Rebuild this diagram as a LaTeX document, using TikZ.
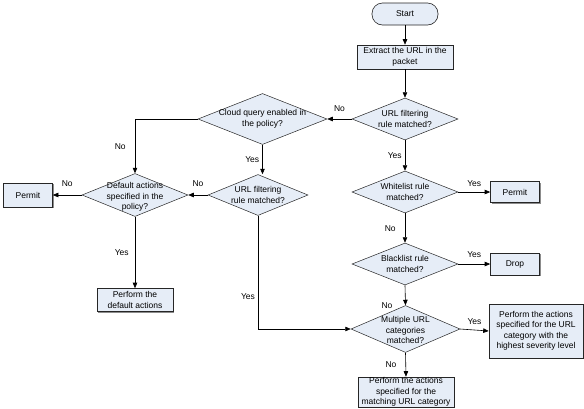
\documentclass[tikz,border=0pt]{standalone}
\usepackage{fontspec}
\setmainfont{Liberation Sans}
\usetikzlibrary{shapes.geometric,arrows.meta,shadows}
\definecolor{boxfill}{HTML}{E6EDF7}
\begin{document}
\begin{tikzpicture}[x=1pt,y=-1pt,
  every node/.style={font=\fontsize{8.5}{10.5}\selectfont,inner sep=0pt,align=center},
  procbox/.style={draw=black!85,line width=0.6pt,fill=boxfill,align=center,
    drop shadow={shadow xshift=1.2pt,shadow yshift=-1.2pt,fill=black!45,opacity=1}},
  dia/.style={draw=black!85,line width=0.5pt,fill=boxfill,diamond,shape aspect=#1,inner sep=0pt},
  arr/.style={-{Triangle[length=5.5pt,width=4.5pt]},line width=0.6pt},
  lbl/.style={font=\fontsize{8.5}{10}\selectfont}]
\useasboundingbox (0,0) rectangle (584,408);
% terminator
\node[draw=black!85,line width=0.6pt,fill=boxfill,rounded corners=10.5pt,minimum width=66pt,minimum height=22pt] (start) at (405,14) {Start};
\node[procbox,minimum width=96pt,minimum height=24pt] (extract) at (405,57) {Extract the URL in the\\packet};
% decisions
\node[dia=2.5,minimum width=106pt,minimum height=42pt] (d1) at (405,119) {};
\node (t1) at (d1) {URL filtering\\rule matched?};
\node[dia=2.5,minimum width=129pt,minimum height=51pt] (cloud) at (262.5,119) {};
\node (t2) at (cloud) {Cloud query enabled in\\the policy?};
\node[dia=2.5,minimum width=100pt,minimum height=41pt] (d2) at (258,195) {};
\node (t3) at (d2) {URL filtering\\rule matched?};
\node[dia=2.5,minimum width=106pt,minimum height=43pt] (def) at (135,195) {};
\node (t4) at ([yshift=-2pt]def.center) {Default actions\\specified in the\\policy?};
\node[procbox,minimum width=49pt,minimum height=24pt] (permitL) at (28,195) {Permit};
\node[procbox,minimum width=76pt,minimum height=23pt] (perfdef) at (135,300) {Perform the\\default actions};
\node[dia=2.5,minimum width=106pt,minimum height=42pt] (white) at (405,192) {};
\node (t5) at (white) {Whitelist rule\\matched?};
\node[procbox,minimum width=49pt,minimum height=21pt] (permitR) at (515,192) {Permit};
\node[dia=2.5,minimum width=106pt,minimum height=42pt] (black) at (405,264) {};
\node (t6) at (black) {Blacklist rule\\matched?};
\node[procbox,minimum width=49pt,minimum height=22pt] (drop) at (515,264) {Drop};
\node[dia=2.3,minimum width=109pt,minimum height=47pt] (multi) at (405.5,329) {};
\node (t7) at ([yshift=-1pt]multi.center) {Multiple URL\\categories\\matched?};
\node[procbox,minimum width=94pt,minimum height=54pt] (sev) at (536,331) {Perform the actions\\specified for the URL\\category with the\\highest severity level};
\node[procbox,minimum width=96pt,minimum height=30pt] (match) at (406,392) {Perform the actions\\specified for the\\matching URL category};
% connectors
\draw[arr] (start) -- (extract);
\draw[arr] (extract) -- (d1);
\draw[arr] (d1.west) -- (cloud.east) node[lbl,midway,above=7pt] {No};
\draw[arr] (cloud.west) -| (def.north) node[lbl,pos=0.75,left=9pt] {No};
\draw[arr] (cloud.south) -- ([xshift=4.5pt]d2.north) node[lbl,midway,left=3pt] {Yes};
\draw[arr] (d2.west) -- (def.east) node[lbl,midway,above=8pt] {No};
\draw[arr] (def.west) -- (permitL.east) node[lbl,midway,above=8pt] {No};
\draw[arr] (def.south) -- (perfdef.north) node[lbl,midway,left=6pt] {Yes};
\coordinate (c2) at (d2.south |- multi.west);
\draw[arr] (d2.south) -- (c2) -- (multi.west);
\node[lbl] (y2) at (248,297) {Yes};
\draw[arr] (d1.south) -- (white.north) node[lbl,midway,left=3pt] {Yes};
\draw[arr] (white.east) -- (permitR.west) node[lbl,midway,above=5pt] {Yes};
\draw[arr] (white.south) -- (black.north) node[lbl,midway,left=9pt,yshift=-1pt] {No};
\draw[arr] (black.east) -- (drop.west) node[lbl,midway,above=6pt] {Yes};
\draw[arr] (black.south) -- (multi.north);
\node[lbl] (n2) at (387,306) {No};
\draw[arr] (multi.east) -- (sev.west) node[lbl,midway,above=5pt] {Yes};
\draw[arr] (multi.south) -- (match.north) node[lbl,midway,left=9pt] {No};
\end{tikzpicture}
\end{document}
